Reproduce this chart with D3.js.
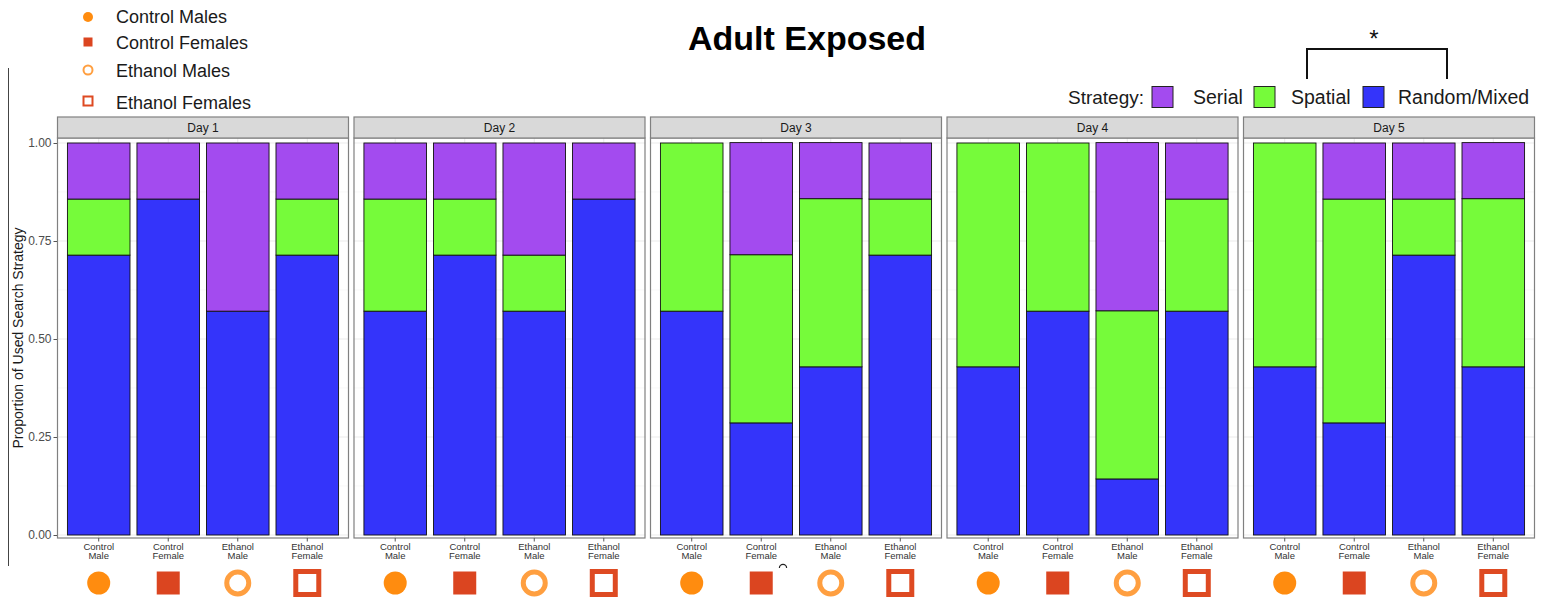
<!DOCTYPE html>
<html>
<head>
<meta charset="utf-8">
<script src="https://cdn.jsdelivr.net/npm/d3@7"></script>
<style>
  body { margin: 0; background: #fff; }
  svg { font-family: "Liberation Sans", Arial, sans-serif; }
</style>
</head>
<body>
<svg id="chart" width="1549" height="600"></svg>
<script>
// data: proportion of animals using each search strategy (n = 7 per group)
const days = ["Day 1", "Day 2", "Day 3", "Day 4", "Day 5"];
const groups = ["Control Male", "Control Female", "Ethanol Male", "Ethanol Female"];
const strategies = ["random", "spatial", "serial"];
const strategyLabels = ["Random/Mixed", "Spatial", "Serial"];

// values listed day by day, 4 groups per day
const random = [
  0.714, 0.857, 0.571, 0.714,
  0.571, 0.714, 0.571, 0.857,
  0.571, 0.286, 0.429, 0.714,
  0.429, 0.571, 0.143, 0.571,
  0.429, 0.286, 0.714, 0.429
];
const spatial = [
  0.143, 0, 0, 0.143,
  0.286, 0.143, 0.143, 0,
  0.429, 0.429, 0.429, 0.143,
  0.571, 0.429, 0.429, 0.286,
  0.571, 0.571, 0.143, 0.429
];
const serial = [
  0.143, 0.143, 0.429, 0.143,
  0.143, 0.143, 0.286, 0.143,
  0, 0.286, 0.143, 0.143,
  0, 0, 0.429, 0.143,
  0, 0.143, 0.143, 0.143
];
const yTicks = [0, 0.25, 0.5, 0.75, 1];
const groupLegend = ["Control Males", "Control Females", "Ethanol Males", "Ethanol Females"];

const colors = { serial: "#a34bef", spatial: "#76fb3a", random: "#3434fa" };
const symColors = ["#ff8c0f", "#db4520", "#ff9f40", "#de4a22"];

const rows = [];
days.forEach((day, i) => {
  groups.forEach((g, j) => {
    const k = i * 4 + j;
    rows.push({ day: day, group: g, random: random[k], spatial: spatial[k], serial: serial[k] });
  });
});
const series = d3.stack().keys(strategies)(rows);

const svg = d3.select("#chart");

// scales
const xDay = d3.scaleBand().domain(days).range([57, 1535]).paddingInner(0.0152);
const xGroup = d3.scaleBand().domain(groups).range([0, xDay.bandwidth()]).paddingInner(0.1).paddingOuter(0.15);
const y = d3.scaleLinear().domain([0, 1]).range([535, 143]);
const panelTop = 138, panelBottom = 538, stripTop = 117;

// left frame line
svg.append("line").attr("x1", 8.5).attr("x2", 8.5).attr("y1", 68).attr("y2", 566)
  .attr("stroke", "#444").attr("stroke-width", 1);

// panels
const panels = svg.selectAll(".panel").data(days).enter().append("g")
  .attr("class", "panel")
  .attr("transform", d => `translate(${xDay(d)},0)`);

// grid
panels.each(function() {
  const p = d3.select(this);
  d3.range(0.125, 1, 0.25).forEach(v => {
    p.append("line").attr("x1", 0).attr("x2", xDay.bandwidth())
      .attr("y1", y(v)).attr("y2", y(v)).attr("stroke", "#f4f4f4").attr("stroke-width", 0.6);
  });
  yTicks.forEach(v => {
    p.append("line").attr("x1", 0).attr("x2", xDay.bandwidth())
      .attr("y1", y(v)).attr("y2", y(v)).attr("stroke", "#ebebeb").attr("stroke-width", 1);
  });
  groups.forEach(g => {
    const cx = xGroup(g) + xGroup.bandwidth() / 2;
    p.append("line").attr("x1", cx).attr("x2", cx)
      .attr("y1", panelTop).attr("y2", panelBottom).attr("stroke", "#ebebeb");
  });
});

// stacked bars
series.forEach(s => {
  panels.each(function(day) {
    const segs = s.filter(d => d.data.day === day);
    d3.select(this).selectAll(".bar-" + s.key).data(segs).enter().append("rect")
      .attr("class", "bar-" + s.key)
      .attr("x", d => xGroup(d.data.group))
      .attr("width", xGroup.bandwidth())
      .attr("y", d => y(d[1]))
      .attr("height", d => y(d[0]) - y(d[1]))
      .attr("fill", colors[s.key])
      .attr("stroke", "#111")
      .attr("stroke-width", 0.9);
  });
});

// panel border + strip
panels.append("rect")
  .attr("x", 0.5).attr("y", panelTop).attr("width", xDay.bandwidth() - 1).attr("height", panelBottom - panelTop)
  .attr("fill", "none").attr("stroke", "#808080").attr("stroke-width", 1.2);
panels.append("rect")
  .attr("x", 0.5).attr("y", stripTop).attr("width", xDay.bandwidth() - 1).attr("height", panelTop - stripTop)
  .attr("fill", "#d9d9d9").attr("stroke", "#808080").attr("stroke-width", 1.2);
panels.append("text")
  .attr("x", xDay.bandwidth() / 2).attr("y", 132)
  .attr("text-anchor", "middle").attr("font-size", 12).attr("fill", "#1a1a1a")
  .text(d => d);

// x axes
panels.each(function() {
  const ax = d3.select(this).append("g").attr("transform", `translate(0,${panelBottom})`)
    .call(d3.axisBottom(xGroup).tickSize(3.5).tickSizeOuter(0));
  ax.select(".domain").remove();
  ax.selectAll(".tick line").attr("stroke", "#555");
  ax.selectAll(".tick text").each(function(d) {
    const t = d3.select(this).text(null)
      .attr("font-size", 9.5).attr("fill", "#333").attr("font-family", "Liberation Sans, Arial, sans-serif")
      .attr("y", 0).attr("dy", null);
    const parts = d.split(" ");
    t.append("tspan").attr("x", 0).attr("y", 12).text(parts[0]);
    t.append("tspan").attr("x", 0).attr("y", 21).text(parts[1]);
  });
});

// y axis
const yAx = svg.append("g").attr("transform", `translate(57,0)`)
  .call(d3.axisLeft(y).tickValues(yTicks).tickFormat(d3.format(".2f")).tickSize(3.5).tickSizeOuter(0));
yAx.select(".domain").remove();
yAx.selectAll(".tick line").attr("stroke", "#555");
yAx.selectAll(".tick text").attr("font-size", 12).attr("fill", "#4d4d4d")
  .attr("font-family", "Liberation Sans, Arial, sans-serif").attr("x", -5.5);

svg.append("text")
  .attr("transform", `translate(23,${(panelTop + panelBottom) / 2}) rotate(-90)`)
  .attr("text-anchor", "middle").attr("font-size", 14).attr("fill", "#1a1a1a")
  .text("Proportion of Used Search Strategy");

// group symbols under each panel
function drawSymbol(g, i, cx, cy, big) {
  const c = symColors[i];
  if (big) {
    if (i === 0) g.append("circle").attr("cx", cx).attr("cy", cy).attr("r", 11.5).attr("fill", c);
    if (i === 1) g.append("rect").attr("x", cx - 11.5).attr("y", cy - 11.5).attr("width", 23).attr("height", 23).attr("fill", c);
    if (i === 2) g.append("circle").attr("cx", cx).attr("cy", cy).attr("r", 11).attr("fill", "#fff").attr("stroke", c).attr("stroke-width", 5);
    if (i === 3) g.append("rect").attr("x", cx - 11.5).attr("y", cy - 11.5).attr("width", 23).attr("height", 23).attr("fill", "#fff").attr("stroke", c).attr("stroke-width", 5);
  } else {
    if (i === 0) g.append("circle").attr("cx", cx).attr("cy", cy).attr("r", 5).attr("fill", c);
    if (i === 1) g.append("rect").attr("x", cx - 4.5).attr("y", cy - 4.5).attr("width", 9).attr("height", 9).attr("fill", c);
    if (i === 2) g.append("circle").attr("cx", cx).attr("cy", cy).attr("r", 4.5).attr("fill", "#fff").attr("stroke", c).attr("stroke-width", 2);
    if (i === 3) g.append("rect").attr("x", cx - 4.5).attr("y", cy - 4.5).attr("width", 9).attr("height", 9).attr("fill", "#fff").attr("stroke", c).attr("stroke-width", 2);
  }
}
panels.each(function() {
  const p = d3.select(this);
  groups.forEach((g, i) => drawSymbol(p, i, xGroup(g) + xGroup.bandwidth() / 2, 583, true));
});

// small mark under Day 3 (from source image)
svg.append("path")
  .attr("d", d3.arc()({ innerRadius: 3, outerRadius: 4.2, startAngle: -Math.PI / 2, endAngle: Math.PI / 2 }))
  .attr("transform", "translate(783,568)").attr("fill", "#222");

// title
svg.append("text").attr("x", 807).attr("y", 50).attr("text-anchor", "middle")
  .attr("font-size", 34).attr("font-weight", "bold").attr("fill", "#000")
  .text("Adult Exposed");

// group legend (top left)
const legY = [17, 42, 70, 101];
const legTextY = [23, 49, 77, 109];
const gl = svg.append("g");
groupLegend.forEach((lab, i) => {
  drawSymbol(gl, i, 88, legY[i], false);
  gl.append("text").attr("x", 116).attr("y", legTextY[i]).attr("font-size", 18).attr("fill", "#1a1a1a").text(lab);
});

// strategy legend
const sl = svg.append("g");
sl.append("text").attr("x", 1068).attr("y", 104).attr("font-size", 19).attr("fill", "#1a1a1a").text("Strategy:");
const legendOrder = ["serial", "spatial", "random"];
const boxX = [1152, 1254, 1363];
const labX = [1193, 1291, 1398];
legendOrder.forEach((k, i) => {
  sl.append("rect").attr("x", boxX[i]).attr("y", 86.5).attr("width", 21).attr("height", 21)
    .attr("fill", colors[k]).attr("stroke", "#222").attr("stroke-width", 1);
  sl.append("text").attr("x", labX[i]).attr("y", 104).attr("font-size", 19.5).attr("fill", "#1a1a1a")
    .text(strategyLabels[strategies.indexOf(k)]);
});

// significance bracket
svg.append("path").attr("d", "M1307,79V49H1447V79").attr("fill", "none")
  .attr("stroke", "#111").attr("stroke-width", 2);
svg.append("text").attr("x", 1374).attr("y", 47).attr("text-anchor", "middle")
  .attr("font-size", 24).attr("fill", "#111").text("*");
</script>
</body>
</html>
